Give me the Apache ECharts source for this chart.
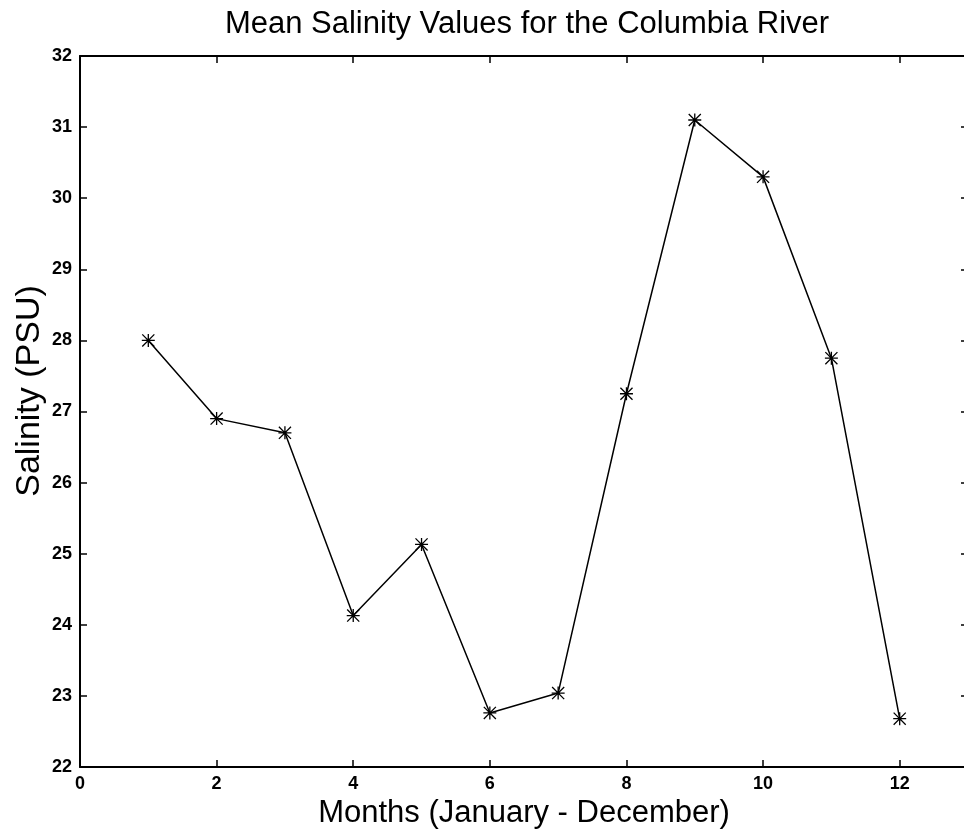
<!DOCTYPE html>
<html>
<head>
<meta charset="utf-8">
<script src="https://cdn.jsdelivr.net/npm/echarts@6/dist/echarts.min.js"></script>
<style>
html,body{margin:0;padding:0;background:#fff;overflow:hidden;}
#chart{width:972px;height:836px;}
</style>
</head>
<body>
<div id="chart"></div>
<script>
// Data
var months = [1, 2, 3, 4, 5, 6, 7, 8, 9, 10, 11, 12];
var salinity = [28.0, 26.9, 26.7, 24.13, 25.13, 22.76, 23.04, 27.25, 31.1, 30.3, 27.75, 22.68];
var titleText = 'Mean Salinity Values for the Columbia River';
var xName = 'Months (January - December)';
var yName = 'Salinity (PSU)';

var asterisk = 'path://M45 0L55 0L55 100L45 100Z M0 45L100 45L100 55L0 55Z M0 7L7 0L100 93L93 100Z M93 0L100 7L7 100L0 93Z';
var fontFam = '"Liberation Sans", Arial, Helvetica, sans-serif';

var pts = months.map(function (m, i) { return [m, salinity[i]]; });

var chart = echarts.init(document.getElementById('chart'));
var tickLab = { color: '#000', fontFamily: fontFam, fontWeight: 'bold', fontSize: 18 };
chart.setOption({
  animation: false,
  backgroundColor: '#fff',
  title: {
    text: titleText, left: 522, top: 4, textAlign: 'center',
    textStyle: { color: '#000', fontFamily: fontFam, fontWeight: 'normal', fontSize: 31 }
  },
  graphic: [{
    type: 'text', x: 30, y: 391, rotation: Math.PI / 2,
    style: {
      text: yName, fill: '#000', font: '34px ' + fontFam,
      textAlign: 'center', textVerticalAlign: 'middle'
    }
  }],
  grid: { left: 80, right: 4, top: 56, bottom: 69, containLabel: false },
  xAxis: [{
    type: 'value', min: 0, max: 13, interval: 2, position: 'bottom',
    name: xName, nameLocation: 'middle', nameGap: 24,
    nameTextStyle: { color: '#000', fontFamily: fontFam, fontSize: 31 },
    axisLine: { onZero: false, lineStyle: { color: '#000', width: 2 } },
    axisTick: { inside: true, length: 7, lineStyle: { color: '#000', width: 1.5 } },
    axisLabel: Object.assign({ margin: 8, showMaxLabel: false }, tickLab),
    splitLine: { show: false }
  }, {
    type: 'value', min: 0, max: 13, interval: 2, position: 'top',
    axisLine: { onZero: false, lineStyle: { color: '#000', width: 2 } },
    axisTick: { inside: true, length: 7, lineStyle: { color: '#000', width: 1.5 } },
    axisLabel: { show: false }, splitLine: { show: false }
  }],
  yAxis: [{
    type: 'value', min: 22, max: 32, interval: 1, position: 'left',
    axisLine: { onZero: false, lineStyle: { color: '#000', width: 2 } },
    axisTick: { inside: true, length: 7, lineStyle: { color: '#000', width: 1.5 } },
    axisLabel: Object.assign({ margin: 8 }, tickLab),
    splitLine: { show: false }
  }, {
    type: 'value', min: 22, max: 32, interval: 1, position: 'right',
    axisLine: { onZero: false, lineStyle: { color: '#000', width: 2 } },
    axisTick: { inside: true, length: 7, lineStyle: { color: '#000', width: 1.5 } },
    axisLabel: { show: false }, splitLine: { show: false }
  }],
  series: [{
    type: 'line', xAxisIndex: 0, yAxisIndex: 0,
    data: pts,
    lineStyle: { color: '#000', width: 1.5 },
    itemStyle: { color: '#000' },
    symbol: asterisk, symbolSize: 13, showSymbol: true
  }]
});
</script>
</body>
</html>
